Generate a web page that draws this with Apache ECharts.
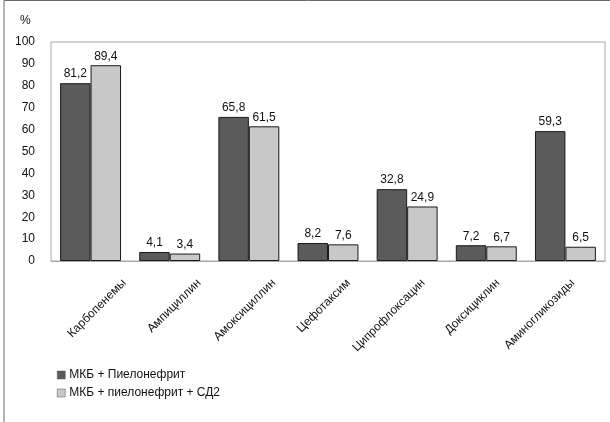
<!DOCTYPE html>
<html>
<head>
<meta charset="utf-8">
<script src="https://cdn.jsdelivr.net/npm/echarts@6/dist/echarts.min.js"></script>
<style>
  html, body { margin: 0; padding: 0; background: #fff; }
  #chart { width: 610px; height: 422px; }
</style>
</head>
<body>
<div id="chart"></div>
<script>
// Antibiotic categories
const categories = ['Карбопенемы', 'Ампициллин', 'Амоксициллин', 'Цефотаксим', 'Ципрофлоксацин', 'Доксициклин', 'Аминогликозиды'];
// Series
const seriesNames = ['МКБ + Пиелонефрит', 'МКБ + пиелонефрит + СД2'];
const valuesMkbPn = [81.2, 4.1, 65.8, 8.2, 32.8, 7.2, 59.3];
const valuesMkbPnSd2 = [89.4, 3.4, 61.5, 7.6, 24.9, 6.7, 6.5];
const yTicks = [0, 10, 20, 30, 40, 50, 60, 70, 80, 90, 100];

const FONT = '"Liberation Sans", Arial, sans-serif';
const fmt = v => String(v).replace('.', ',');

// Plot area in pixels; category labels sit on a twin axis nudged to the right
const PLOT = { left: 51, right: 5, top: 42, bottom: 161 };
const LABEL_SHIFT = 36;

const chart = echarts.init(document.getElementById('chart'), null, { renderer: 'canvas' });

function barSeries(name, data, color) {
  return {
    name: name,
    type: 'bar',
    data: data,
    barGap: '0%',
    barCategoryGap: '23%',
    itemStyle: { color: color, borderColor: '#1a1a1a', borderWidth: 1 },
    label: {
      show: true,
      position: 'top',
      distance: 3,
      fontFamily: FONT,
      fontSize: 12,
      color: '#111',
      formatter: p => fmt(p.value)
    }
  };
}

chart.setOption({
  animation: false,
  textStyle: { fontFamily: FONT },
  graphic: [
    {
      type: 'rect',
      shape: { x: 4, y: 0.5, width: 640, height: 440 },
      style: { fill: 'none', stroke: '#6a6a6a', lineWidth: 1 },
      silent: true
    },
    {
      type: 'text',
      left: 20, top: 15,
      style: { text: '%', font: '12px ' + FONT, fill: '#111' }
    }
  ],
  grid: [
    {
      left: PLOT.left, right: PLOT.right, top: PLOT.top, bottom: PLOT.bottom,
      show: true, borderColor: '#a8a8a8', borderWidth: 1, backgroundColor: 'transparent'
    },
    {
      left: PLOT.left + LABEL_SHIFT, right: PLOT.right - LABEL_SHIFT,
      top: PLOT.top, bottom: PLOT.bottom, show: false
    }
  ],
  legend: {
    orient: 'vertical',
    left: 52, top: 364,
    itemWidth: 8, itemHeight: 8, itemGap: 6,
    icon: 'rect',
    textStyle: { fontFamily: FONT, fontSize: 12, color: '#111', padding: [0, 0, 0, -1] },
    data: seriesNames.map(n => ({
      name: n,
      itemStyle: { borderColor: '#555', borderWidth: 0.5 }
    }))
  },
  xAxis: [
    {
      type: 'category',
      gridIndex: 0,
      data: categories,
      axisLine: { lineStyle: { color: '#a8a8a8', width: 1 } },
      axisTick: { show: false },
      axisLabel: { show: false }
    },
    {
      type: 'category',
      gridIndex: 1,
      data: categories,
      axisLine: { show: false },
      axisTick: { show: false },
      axisLabel: {
        rotate: 45,
        interval: 0,
        margin: 20,
        fontFamily: FONT,
        fontSize: 12,
        color: '#111'
      }
    }
  ],
  yAxis: [
    {
      type: 'value',
      gridIndex: 0,
      min: 0, max: 100, interval: 10,
      axisLine: { show: false },
      axisTick: { show: false },
      splitLine: { show: false },
      axisLabel: {
        margin: 16,
        fontFamily: FONT,
        fontSize: 12,
        color: '#111',
        formatter: v => (yTicks.indexOf(v) >= 0 ? String(v) : '')
      }
    },
    {
      type: 'value',
      gridIndex: 1,
      min: 0, max: 100,
      show: false
    }
  ],
  series: [
    barSeries(seriesNames[0], valuesMkbPn, '#5b5b5b'),
    barSeries(seriesNames[1], valuesMkbPnSd2, '#c8c8c8')
  ]
});
</script>
</body>
</html>
